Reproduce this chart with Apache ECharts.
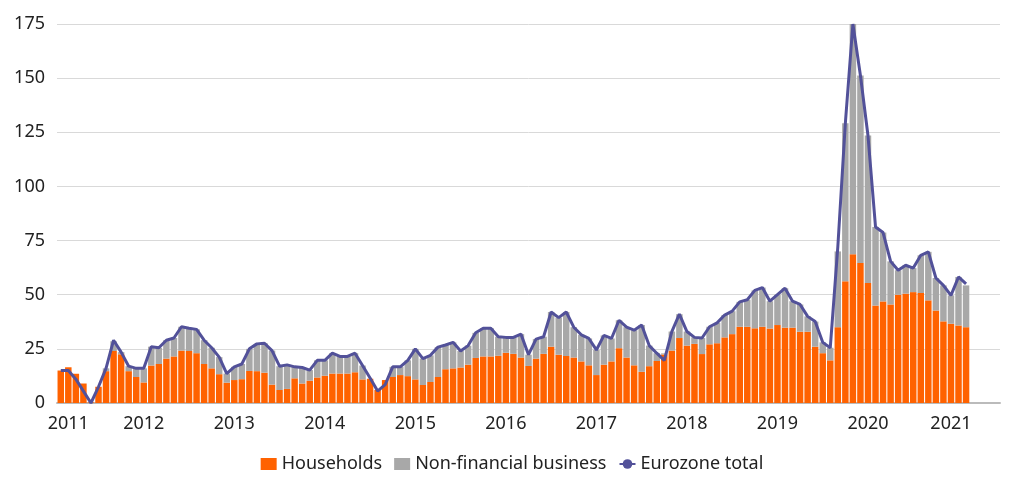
<!DOCTYPE html>
<html>
<head>
<meta charset="utf-8">
<script src="https://cdn.jsdelivr.net/npm/echarts@6/dist/echarts.min.js"></script>
<style>
  html, body { margin: 0; padding: 0; background: #fff; }
  #main { width: 1024px; height: 492px; }
</style>
</head>
<body>
<div id="main"></div>
<script>
// monthly, Aug 2011 .. Aug 2021
var startYear = 2011, startMonth = 8;

var households = [
  15, 16.5, 13.5, 9, 0.3,
  7.5, 14.7, 24, 22.5, 14.7, 12, 9.5, 17.3, 18, 20.5, 21.5, 24.2,
  24, 23, 18, 16, 13.3, 9.4, 10.6, 11, 14.8, 14.7, 14, 8.5,
  6, 6.5, 11.4, 9, 10.3, 11.8, 12.6, 13.6, 13.6, 13.6, 14.2, 10.9,
  11.2, 6, 10.6, 12, 12.9, 12.4, 10.9, 8.3, 9.7, 12, 15.6, 16,
  16.4, 17.7, 20.8, 21.5, 21.5, 21.8, 23.2, 22.7, 21, 17.1, 20.5, 22.7,
  26, 22.3, 21.7, 21, 19.2, 17.4, 12.9, 17.7, 19.2, 25.3, 21, 17.4,
  14.4, 17, 19.4, 22.4, 24.2, 30, 26.5, 27.3, 22.6, 27.1, 27.6, 30.3,
  31.8, 35.2, 35.2, 34.5, 35.2, 34.4, 36, 34.8, 34.8, 32.9, 32.9, 26,
  23, 19.7, 35, 56.2, 68.7, 64.7, 55.4, 45, 46.9, 45.5, 50, 50.5,
  51.2, 50.8, 47.4, 42.7, 37.7, 36.6, 35.8, 35
];

var nonFinancial = [
  0, 0, 0, 0, 0,
  0, 1.3, 4.5, 1, 2.3, 4, 6.5, 8.7, 7.5, 8.5, 8.5, 11,
  10.5, 11, 11, 9.5, 7.9, 4.2, 6.1, 7, 10.2, 12.6, 13.6, 15.7,
  11, 11.1, 5.3, 7.4, 4.9, 7.9, 7.1, 9.4, 7.9, 7.9, 8.8, 6.4,
  0, 0, 0, 4.7, 3.8, 7.3, 14.1, 12.2, 12.3, 13.8, 11.2, 12,
  7.6, 8.8, 11.6, 13, 13, 8.8, 7.1, 7.6, 10.8, 5.2, 9, 7.9,
  16, 17.1, 20.3, 14, 12.3, 12.4, 11.6, 13.5, 10.6, 12.9, 14, 16.2,
  21.6, 9.5, 3.6, 0.5, 8.8, 11, 6.5, 3, 7.4, 8.1, 9.4, 10.3,
  10.6, 11.5, 12.5, 17.5, 18.1, 12.6, 14, 18.2, 12.2, 12.6, 7.1, 11.6,
  5, 5.8, 35, 73, 106.3, 86.5, 68.1, 36.3, 31.8, 19.9, 11.3, 13.1,
  11.1, 17.4, 22.4, 15, 16.6, 13.1, 22.4, 19.3
];

var eurozoneTotal = [
  15, 15, 11, 5.5, 0,
  7.5, 16, 29, 23.5, 17, 16, 16, 26, 25.5, 29, 30, 35.2,
  34.5, 34, 29, 25.5, 21.2, 13.6, 16.7, 18, 25, 27.3, 27.6, 24.2,
  17, 17.6, 16.7, 16.4, 15.2, 19.7, 19.7, 23, 21.5, 21.5, 23, 17.3,
  11.5, 5.5, 8.5, 16.7, 16.7, 19.7, 25, 20.5, 22, 25.8, 26.8, 28,
  24, 26.5, 32.4, 34.5, 34.5, 30.6, 30.3, 30.3, 31.8, 22.3, 29.5, 30.6,
  42, 39.4, 42, 35, 31.5, 29.8, 24.5, 31.2, 29.8, 38.2, 35, 33.6,
  36, 26.5, 23, 19.7, 33, 41, 33, 30.3, 30, 35.2, 37, 40.6,
  42.4, 46.7, 47.7, 52, 53.3, 47, 50, 53, 47, 45.5, 40, 37.6,
  28, 25.5, 72, 129.2, 175, 151.2, 123.5, 81.3, 78.7, 65.4, 61.3, 63.6,
  62.3, 68.2, 69.8, 57.7, 54.3, 49.7, 58.2, 55
];

var yTicks = [0, 25, 50, 75, 100, 125, 150, 175];

// category labels "YYYY-MM", plus a few empty slots at the end of the axis
var months = [];
for (var i = 0; i < households.length + 4; i++) {
  var m = startMonth - 1 + i;
  months.push((startYear + Math.floor(m / 12)) + '-' + ((m % 12) + 1));
}

function isJan(idx) { return months[idx].split('-')[1] === '1'; }
function labelAt(idx) {
  var parts = months[idx].split('-');
  if (idx === 1) return true;               // 2011 (partial year)
  if (parts[0] === '2021') return parts[1] === '6';
  return parts[1] === '7';
}

var font = 'Noto Sans';
var myChart = echarts.init(document.getElementById('main'));
var option = {
  backgroundColor: '#fff',
  animation: false,
  textStyle: { fontFamily: font },
  grid: { left: 57, right: 24, top: 24, bottom: 89 },
  legend: {
    bottom: 14,
    itemGap: 12,
    itemWidth: 16,
    itemHeight: 12,
    textStyle: { fontSize: 18, color: '#222', fontFamily: font },
    data: [
      { name: 'Households', icon: 'rect' },
      { name: 'Non-financial business', icon: 'rect' },
      { name: 'Eurozone total' }
    ]
  },
  xAxis: {
    type: 'category',
    data: months,
    axisLine: { lineStyle: { color: '#bbb', width: 2 } },
    axisTick: { interval: function (idx) { return isJan(idx); }, length: 6, lineStyle: { color: '#bbb' } },
    axisLabel: {
      interval: function (idx) { return labelAt(idx); },
      formatter: function (v) { return v.split('-')[0]; },
      fontSize: 18, color: '#222', margin: 12
    }
  },
  yAxis: {
    type: 'value',
    min: yTicks[0],
    max: yTicks[yTicks.length - 1],
    interval: 25,
    axisLine: { show: false },
    axisTick: { show: false },
    axisLabel: { fontSize: 18, color: '#222', margin: 12 },
    splitLine: { lineStyle: { color: '#d9d9d9' } }
  },
  series: [
    {
      name: 'Households', type: 'bar', stack: 'a',
      data: households, barCategoryGap: '14%',
      itemStyle: { color: '#FF6200' }
    },
    {
      name: 'Non-financial business', type: 'bar', stack: 'a',
      data: nonFinancial,
      itemStyle: { color: '#A8A8A8' }
    },
    {
      name: 'Eurozone total', type: 'line',
      data: eurozoneTotal, symbol: 'none',
      lineStyle: { color: '#525199', width: 3 },
      itemStyle: { color: '#525199' }
    }
  ]
};
myChart.setOption(option);
</script>
</body>
</html>
